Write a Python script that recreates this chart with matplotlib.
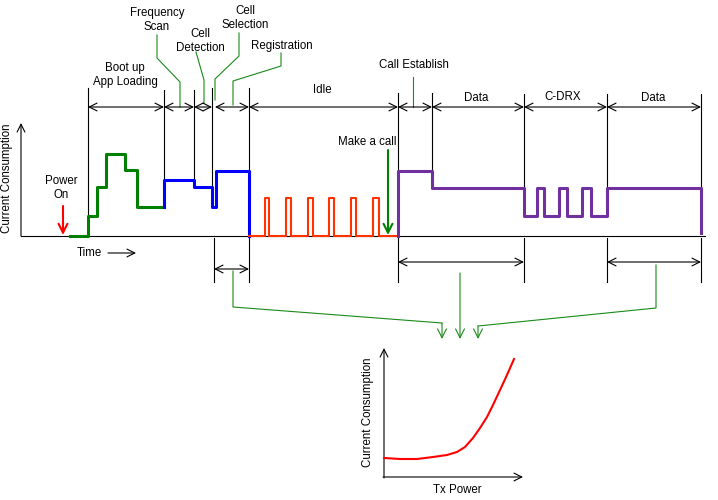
import matplotlib.pyplot as plt

# all positions in pixel space of the 718x500 diagram (y grows downward)
boot_x = [70, 88, 97, 106, 125, 137, 164]
boot_y = [236, 216, 187, 154, 170, 207, 207]

scan_x = [164, 164, 194, 212, 216, 249, 249]
scan_y = [207, 180, 187, 207, 171, 171, 236]

idle_x = [249, 265, 269, 286, 291, 308, 313, 329, 334, 351, 356, 373, 379, 398]
idle_y = [236, 198, 236, 198, 236, 198, 236, 198, 236, 198, 236, 198, 236, 236]

call_x = [398, 398, 432, 524, 537, 544, 559, 567, 582, 591, 607, 701, 701]
call_y = [236, 171, 188, 216, 188, 216, 188, 216, 188, 216, 188, 188, 233]

tx_x = [384, 400, 417, 433, 447, 457, 465, 473, 480, 487, 493, 500, 507, 514]
tx_y = [458, 459, 459, 457, 455, 452, 447, 438, 428, 417, 405, 390, 375, 359]

# phase boundaries on the dimension row
phase_edges = [(88, 164), (164, 194), (194, 212), (215, 249), (249, 398),
               (398, 432), (432, 524), (524, 607), (607, 701)]
top_ticks = [(88, 88, 216), (164, 90, 180), (194, 90, 180), (212, 88, 207),
             (249, 88, 236), (398, 93, 236), (432, 93, 171), (524, 94, 188),
             (607, 94, 188), (701, 94, 188)]
bottom_ticks = [214, 249, 398, 524, 607, 701]
bottom_spans = [(214, 249, 269), (398, 524, 262), (607, 701, 262)]

labels = [("Frequency\nScan", 157, 20), ("Cell\nDetection", 200, 41),
          ("Cell\nSelection", 245, 18), ("Registration", 282, 46),
          ("Boot up\nApp Loading", 125, 75), ("Idle", 322, 90),
          ("Power\nOn", 61, 188), ("Make a call", 367, 142),
          ("Call Establish", 414, 65), ("Data", 476, 98),
          ("C-DRX", 563, 97), ("Data", 653, 98)]

# green callout polylines
callouts = [([157, 157, 180, 180], [35, 58, 82, 107]),
            ([196, 204, 204], [52, 80, 103]),
            ([239, 239, 215, 215], [33, 56, 79, 100]),
            ([281, 281, 233, 233], [53, 66, 81, 105]),
            ([413, 413], [77, 107])]
feeds = [([233, 233, 442, 442], [271, 307, 323, 339]),
         ([460, 460], [273, 339]),
         ([656, 656, 478, 478], [265, 308, 326, 339])]

plt.rcParams['font.family'] = ['Liberation Sans', 'DejaVu Sans']
fig = plt.figure(figsize=(7.18, 5.0), dpi=100)
ax = fig.add_axes([0, 0, 1, 1])
ax.set_xlim(0, 718)
ax.set_ylim(500, 0)
ax.axis('off')

k = dict(color='black', lw=0.8)
dbl = dict(arrowstyle='<->,head_length=0.7,head_width=0.35', color='black',
           lw=0.8, shrinkA=0, shrinkB=0, mutation_scale=8)
one = dict(arrowstyle='->,head_length=0.7,head_width=0.35', color='black',
           lw=0.8, shrinkA=0, shrinkB=0, mutation_scale=8)

# main axes
ax.plot([21, 705], [236, 236], **k)
ax.annotate('', xy=(21, 123), xytext=(21, 236), arrowprops=one)
ax.text(7, 178, "Current Consumption", rotation=90, ha='center', va='center', fontsize=8.3)
ax.text(77, 253, "Time", ha='left', va='center', fontsize=8.3)
ax.annotate('', xy=(136, 253), xytext=(108, 253), arrowprops=one)

# current traces
ax.plot(boot_x, boot_y, drawstyle='steps-post', color='#008000', lw=2.2, zorder=3)
ax.plot(scan_x, scan_y, drawstyle='steps-post', color='#0000ff', lw=2.2, zorder=3)
ax.plot(idle_x, idle_y, drawstyle='steps-post', color='#ff3300', lw=1.5, zorder=3)
ax.plot(call_x, call_y, drawstyle='steps-post', color='#7030a0', lw=2.2, zorder=3)

# phase markers
for x, y0, y1 in top_ticks:
    ax.plot([x, x], [y0, y1], **k)
for a, b in phase_edges:
    ax.annotate('', xy=(a, 107), xytext=(b, 107), arrowprops=dbl)
for x in bottom_ticks:
    ax.plot([x, x], [238, 282], **k)
for a, b, y in bottom_spans:
    ax.annotate('', xy=(a, y), xytext=(b, y), arrowprops=dbl)

for txt, x, y in labels:
    ax.text(x, y, txt, ha='center', va='center', fontsize=8.3, linespacing=1.15)

for xs, ys in callouts:
    ax.plot(xs, ys, color='#1a8a1a', lw=0.8)

green_head = dict(arrowstyle='->,head_length=0.8,head_width=0.4', color='#1a8a1a',
                  lw=0.8, shrinkA=0, shrinkB=0, mutation_scale=8)
for xs, ys in feeds:
    ax.plot(xs[:-1], ys[:-1], color='#1a8a1a', lw=0.8)
    ax.annotate('', xy=(xs[-1], ys[-1]), xytext=(xs[-2], ys[-2]), arrowprops=green_head)

# power on / make a call arrows
ax.annotate('', xy=(63, 235), xytext=(63, 206),
            arrowprops=dict(arrowstyle='->,head_length=0.8,head_width=0.4', color='#ff0000',
                            lw=1.5, shrinkA=0, shrinkB=0, mutation_scale=8))
ax.annotate('', xy=(388, 235), xytext=(388, 150),
            arrowprops=dict(arrowstyle='->,head_length=0.8,head_width=0.4', color='#008000',
                            lw=1.5, shrinkA=0, shrinkB=0, mutation_scale=8), zorder=4)

# inset: current vs tx power
ax.annotate('', xy=(384, 348), xytext=(384, 478), arrowprops=one)
ax.annotate('', xy=(523, 477), xytext=(383, 477), arrowprops=one)
ax.plot(tx_x, tx_y, color='#ff0000', lw=1.5, zorder=3)
ax.text(368, 412, "Current Consumption", rotation=90, ha='center', va='center', fontsize=8.3)
ax.text(457, 490, "Tx Power", ha='center', va='center', fontsize=8.3)

fig.savefig('out.png', dpi=100)
